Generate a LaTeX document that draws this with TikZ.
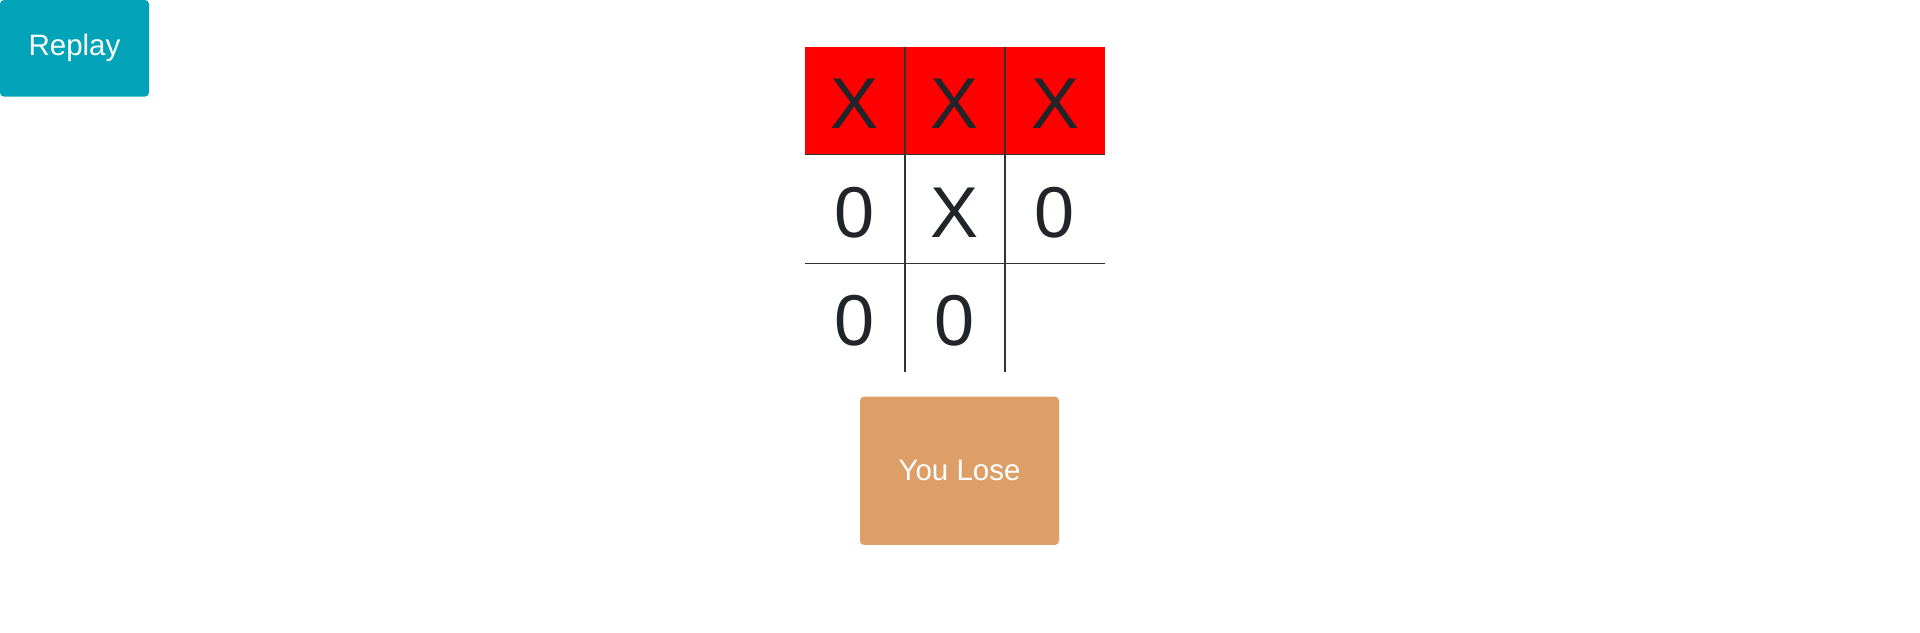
\documentclass[tikz,border=0pt]{standalone}
\usepackage{fontspec}
\setmainfont{Liberation Sans}
\usetikzlibrary{positioning}
\definecolor{replayteal}{RGB}{0,163,184}
\definecolor{losetan}{RGB}{221,159,103}
\definecolor{markdark}{RGB}{33,37,41}
\definecolor{griddark}{RGB}{51,51,51}
\tikzset{btn/.style={rectangle,rounded corners=4pt,inner sep=0pt,text=white,font=\fontsize{29.5}{35}\selectfont},
         cellmark/.style={inner sep=0pt,text=markdark,font=\fontsize{72}{80}\selectfont},
         gridline/.style={griddark,line width=1.6pt}}

\begin{document}
\begin{tikzpicture}[x=1pt,y=-1pt]
      \useasboundingbox[fill=white] (0,0) rectangle (1920,632);
      \node[btn,fill=replayteal,minimum width=149pt,minimum height=96.6pt] (replay) at (74.5,48.3) {Replay};

      % winning row
      \fill[red] (805,46.7) rectangle (1105,154.3);
      \draw[gridline] (805,154.3) -- (1105,154.3);
      \draw[gridline] (805,263.3) -- (1105,263.3);
      \draw[gridline] (905,46.7) -- (905,371.7);
      \draw[gridline] (1005,46.7) -- (1005,371.7);

      \foreach \sym/\col/\row in {X/1/1, X/2/1, X/3/1, 0/1/2, X/2/2, 0/3/2, 0/1/3, 0/2/3}
          \node[cellmark] (m\col\row) at ({755+100*\col},{-4.5+108.5*\row}) {\sym};

      \node[btn,fill=losetan,minimum width=199pt,minimum height=148.3pt] (result) at (959.5,470.8) {You Lose};
  \end{tikzpicture}
\end{document}
